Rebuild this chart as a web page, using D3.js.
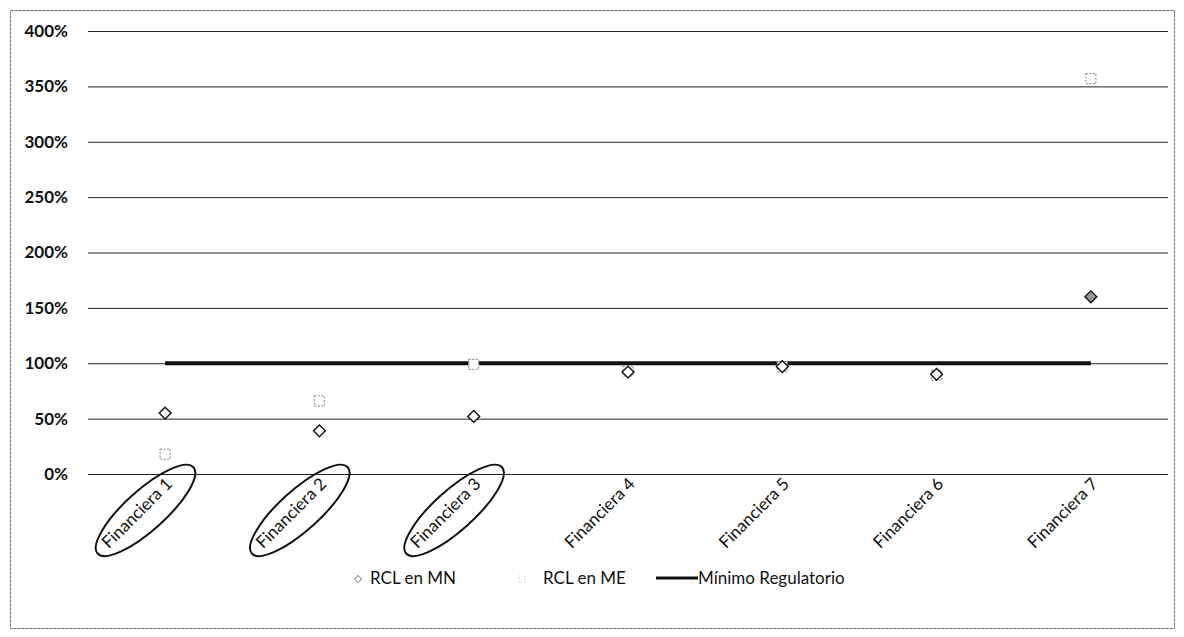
<!DOCTYPE html>
<html>
<head>
<meta charset="utf-8">
<script src="https://cdn.jsdelivr.net/npm/d3@7"></script>
<style>
  body { margin: 0; background: #fff; }
  text { font-family: Lato, "Open Sans", sans-serif; fill: #111; }
</style>
</head>
<body>
<script>
// datos
const categorias = ["Financiera 1", "Financiera 2", "Financiera 3", "Financiera 4", "Financiera 5", "Financiera 6", "Financiera 7"]
const rclMN = [55, 39, 52, 92, 97, 90, 160]
const rclME = [18, 66, 99, 93, 97, 89, 357]
const minimoRegulatorio = [100, 100, 100, 100, 100, 100, 100]
const yTicks = [0, 50, 100, 150, 200, 250, 300, 350, 400]
const marcadas = ["Financiera 1", "Financiera 2", "Financiera 3"]

let width = 1184
let height = 637

let svg = d3.select('body')
  .append('svg')
  .attr('width', width)
  .attr('height', height)

// borde punteado del grafico
svg.append('rect')
  .attr('x', 10.5).attr('y', 10.5)
  .attr('width', 1164).attr('height', 618)
  .attr('fill', 'none')
  .attr('stroke', '#666')
  .attr('stroke-dasharray', '3,1')

let scaleX = d3.scaleBand()
  .domain(categorias)
  .range([88, 1168])

let scaleY = d3.scaleLinear()
  .domain([0, 400])
  .range([474, 31])

let cx = d => scaleX(d) + scaleX.bandwidth() / 2

// ejes y grilla
let yAxis = svg.append('g')
  .attr('transform', 'translate(88,0)')
  .call(d3.axisLeft(scaleY)
    .tickValues(yTicks)
    .tickSize(-1080)
    .tickPadding(20)
    .tickFormat(d => d + '%'))
yAxis.select('.domain').remove()
yAxis.selectAll('line').attr('stroke', '#222').attr('stroke-width', 1)
yAxis.selectAll('text')
  .attr('font-size', 17)
  .attr('font-weight', 'bold')
  .style('font-family', 'Lato, "Open Sans", sans-serif')
  .attr('fill', '#111')

// minimo regulatorio
let line = d3.line()
  .x((d, i) => cx(categorias[i]))
  .y(d => scaleY(d))

svg.append('path')
  .datum(minimoRegulatorio)
  .attr('d', line)
  .attr('fill', 'none')
  .attr('stroke', '#111')
  .attr('stroke-width', 4)

// RCL en ME (cuadrados claros)
svg.append('g').selectAll('rect')
  .data(rclME)
  .enter()
  .append('rect')
  .attr('x', (d, i) => cx(categorias[i]) - 5)
  .attr('y', d => scaleY(d) - 5)
  .attr('width', 10)
  .attr('height', 10)
  .attr('fill', '#fff')
  .attr('stroke', '#999')
  .attr('stroke-width', 1.2)
  .attr('stroke-dasharray', '2,1.5')

// RCL en MN (rombos)
let diamond = d3.symbol().type(d3.symbolSquare).size(70)
svg.append('g').selectAll('path')
  .data(rclMN)
  .enter()
  .append('path')
  .attr('d', diamond)
  .attr('transform', (d, i) => 'translate(' + cx(categorias[i]) + ',' + scaleY(d) + ') rotate(45)')
  .attr('fill', (d, i) => i == 6 ? '#999' : '#fff')
  .attr('stroke', '#111')
  .attr('stroke-width', 1.4)

// etiquetas del eje x
let etiquetas = svg.append('g').selectAll('g')
  .data(categorias)
  .enter()
  .append('g')
  .attr('transform', d => 'translate(' + (cx(d) + 8) + ',485) rotate(-45)')

etiquetas.append('text')
  .attr('text-anchor', 'end')
  .attr('font-size', 17)
  .text(d => d)

etiquetas.filter(d => marcadas.includes(d))
  .each(function () {
    let g = d3.select(this)
    let L = g.select('text').node().getComputedTextLength()
    g.append('ellipse')
      .attr('cx', -L / 2 + 8)
      .attr('cy', -2)
      .attr('rx', L / 2 + 19)
      .attr('ry', 20)
      .attr('transform', 'rotate(3,' + (-L / 2) + ',-2)')
      .attr('fill', 'none')
      .attr('stroke', '#111')
      .attr('stroke-width', 2)
  })

// leyenda
let legend = svg.append('g').attr('transform', 'translate(0,584)')

legend.append('path')
  .attr('d', diamond)
  .attr('transform', 'translate(358,-5) rotate(45) scale(0.6)')
  .attr('fill', '#fff')
  .attr('stroke', '#555')
  .attr('stroke-width', 1.4)
legend.append('text').attr('x', 370).attr('font-size', 17).text('RCL en MN')

legend.append('rect')
  .attr('x', 519).attr('y', -8)
  .attr('width', 6).attr('height', 6)
  .attr('fill', 'none')
  .attr('stroke', '#bbb')
  .attr('stroke-dasharray', '1,2')
legend.append('text').attr('x', 543).attr('font-size', 17).text('RCL en ME')

legend.append('line')
  .attr('x1', 656).attr('x2', 698)
  .attr('y1', -6).attr('y2', -6)
  .attr('stroke', '#111')
  .attr('stroke-width', 3)
legend.append('text').attr('x', 698).attr('font-size', 17).text('Mínimo Regulatorio')
</script>
</body>
</html>
